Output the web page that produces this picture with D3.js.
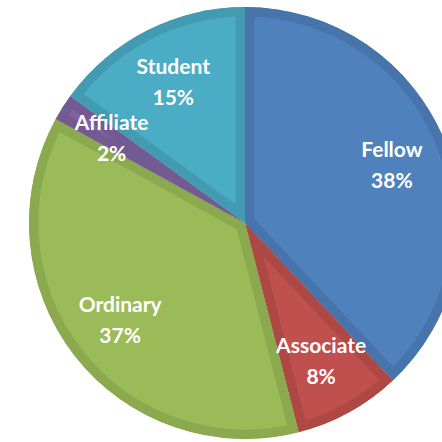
<!DOCTYPE html>
<html>
<head>
<meta charset="utf-8">
<script src="https://cdn.jsdelivr.net/npm/d3@7"></script>
<style>
  body { margin: 0; background: #fff; }
  .lbl { font-family: Lato, "Open Sans", sans-serif; font-weight: bold; font-size: 21px; fill: #fff; }
</style>
</head>
<body>
<script>
var width = 442;
var height = 442;

var categories = ["Fellow", "Associate", "Ordinary", "Affiliate", "Student"];
var values = [38, 8, 37, 2, 15];
var percentLabels = ["38%", "8%", "37%", "2%", "15%"];

var fillCol = d3.scaleOrdinal()
    .domain(categories)
    .range(["#4f81bd", "#c0504d", "#9bbb59", "#8064a2", "#4bacc6"]);
var edgeCol = d3.scaleOrdinal()
    .domain(categories)
    .range(["#4674ab", "#ad4845", "#8ba94f", "#735a92", "#439bb2"]);

var cx = 245, cy = 223, r = 216;

var svg = d3.select("body").append("svg")
    .attr("width", width)
    .attr("height", height);

var g = svg.append("g")
    .attr("transform", "translate(" + cx + "," + cy + ")");

var pie = d3.pie().sort(null).value(function (d) { return d.value; });
var data = categories.map(function (c, i) { return { name: c, value: values[i], pct: percentLabels[i] }; });
var arcs = pie(data);

var arc = d3.arc().innerRadius(0).outerRadius(r);
var labelArc = d3.arc().innerRadius(158).outerRadius(158);

var defs = svg.append("defs");
arcs.forEach(function (d, i) {
    defs.append("clipPath").attr("id", "clip" + i)
        .append("path").attr("d", arc(d));
});

g.selectAll("path.slice")
    .data(arcs)
    .enter().append("path")
    .attr("class", "slice")
    .attr("d", arc)
    .attr("clip-path", function (d, i) { return "url(#clip" + i + ")"; })
    .style("fill", function (d) { return fillCol(d.data.name); })
    .style("stroke", function (d) { return edgeCol(d.data.name); })
    .style("stroke-width", 19)
    .style("stroke-linejoin", "miter");

var labels = g.selectAll("g.lab")
    .data(arcs)
    .enter().append("g")
    .attr("class", "lab")
    .attr("transform", function (d) { return "translate(" + labelArc.centroid(d) + ")"; });

labels.append("text")
    .attr("class", "lbl")
    .attr("text-anchor", "middle")
    .attr("y", -8)
    .text(function (d) { return d.data.name; });

labels.append("text")
    .attr("class", "lbl")
    .attr("text-anchor", "middle")
    .attr("y", 23)
    .text(function (d) { return d.data.pct; });
</script>
</body>
</html>
